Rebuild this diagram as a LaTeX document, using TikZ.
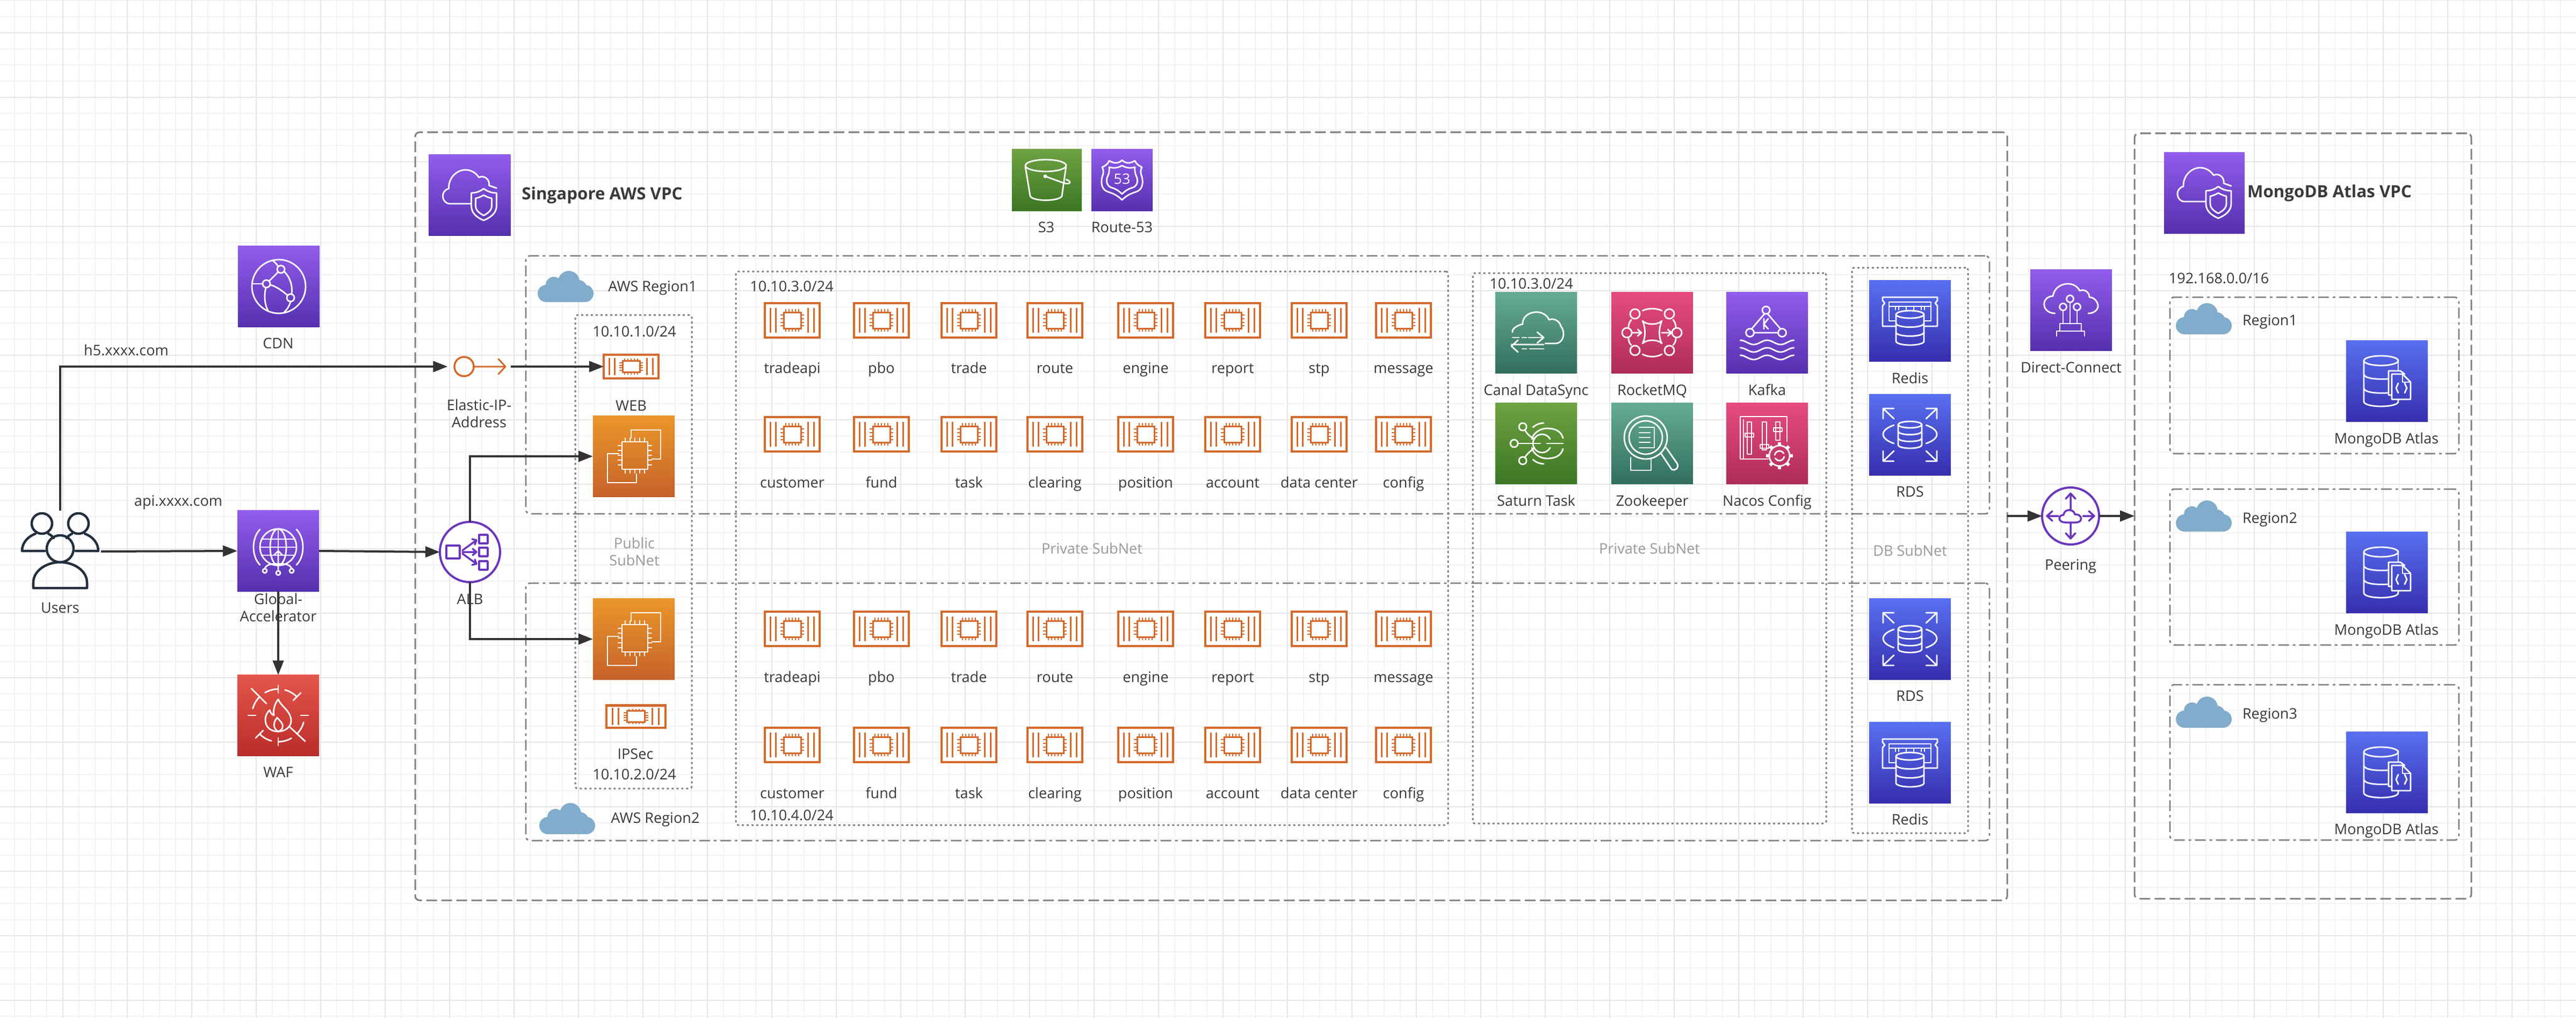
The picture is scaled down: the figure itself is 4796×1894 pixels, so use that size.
\documentclass[tikz,border=0pt]{standalone}
\usepackage{fontspec}
\setmainfont{Open Sans}
\usetikzlibrary{arrows.meta,fit,calc}
\definecolor{txt}{HTML}{3A3A3A}
\definecolor{sub}{HTML}{9A9A9A}
\definecolor{bord}{HTML}{808080}
\definecolor{orng}{HTML}{D4692A}
\definecolor{vio}{HTML}{6A35BE}
\definecolor{cld}{HTML}{82ACCB}
\definecolor{usr}{HTML}{232F3E}
\definecolor{arrc}{HTML}{333333}
\definecolor{gridmin}{HTML}{F3F3F5}
\definecolor{gridmaj}{HTML}{E6E6E8}
\definecolor{puA}{HTML}{5530AE}\definecolor{puB}{HTML}{925CEC}
\definecolor{orA}{HTML}{C6622A}\definecolor{orB}{HTML}{EA962A}
\definecolor{reA}{HTML}{BA2C2A}\definecolor{reB}{HTML}{E4564A}
\definecolor{blA}{HTML}{362EAE}\definecolor{blB}{HTML}{5870F0}
\definecolor{grA}{HTML}{3C7624}\definecolor{grB}{HTML}{6EA242}
\definecolor{teA}{HTML}{326E5E}\definecolor{teB}{HTML}{66AC94}
\definecolor{piA}{HTML}{AE2C5A}\definecolor{piB}{HTML}{E64C7E}
\newcommand\cylg[5]{% cx rx ytop ybot ry
  \draw[gl] (#1,#3) ellipse ({#2} and {#5});
  \draw[gl] ({#1-#2},#3) -- ({#1-#2},#4) arc[start angle=180,end angle=0,x radius=#2,y radius=#5] -- ({#1+#2},#3);
  \pgfmathsetmacro\cma{#3+(#4-#3)/3}
  \pgfmathsetmacro\cmb{#3+2*(#4-#3)/3}
  \draw[gl] ({#1-#2},\cma) arc[start angle=180,end angle=0,x radius=#2,y radius=#5];
  \draw[gl] ({#1-#2},\cmb) arc[start angle=180,end angle=0,x radius=#2,y radius=#5];
}
\tikzset{
  x=0.01cm,y=-0.01cm,
  gl/.style={draw=white,line width=0.028cm,line cap=round,line join=round},
  gln/.style={draw=white,line width=0.022cm,line cap=round,line join=round},
  orl/.style={draw=orng,line width=0.03cm},
  vil/.style={draw=vio,line width=0.035cm,line cap=round,line join=round},
  usl/.style={draw=usr,line width=0.045cm,line cap=round,line join=round},
  icon/.style={rectangle,minimum width=1.52cm,minimum height=1.5cm,inner sep=0pt,outer sep=0pt,draw=none,shading angle=-45},
  gpurple/.style={icon,bottom color=puA,top color=puB},
  gorange/.style={icon,bottom color=orA,top color=orB},
  gred/.style={icon,bottom color=reA,top color=reB},
  gblue/.style={icon,bottom color=blA,top color=blB},
  ggreen/.style={icon,bottom color=grA,top color=grB},
  gteal/.style={icon,bottom color=teA,top color=teB},
  gpink/.style={icon,bottom color=piA,top color=piB},
  chipbox/.style={rectangle,draw=orng,line width=0.04cm,fill=white,inner sep=0pt,outer sep=0pt,minimum width=1.02cm,minimum height=0.63cm},
  lblm/.style={font=\fontsize{7.7}{9.1}\selectfont,text=txt,inner sep=0pt,align=center},
  lbl/.style={lblm,text height=0.8em,text depth=0.2em},
  sublblm/.style={lblm,text=sub},
  sublbl/.style={lbl,text=sub},
  ttl/.style={font=\fontsize{8.9}{10}\selectfont\bfseries,text=txt,inner sep=0pt},
  vpcbox/.style={draw=bord,line width=0.03cm,rounded corners=0.08cm,dash pattern=on 0.2cm off 0.08cm,inner sep=0pt,outer sep=0pt},
  regbox/.style={draw=bord,line width=0.028cm,rounded corners=0.08cm,dash pattern=on 0.2cm off 0.07cm on 0.05cm off 0.07cm,inner sep=0pt,outer sep=0pt},
  netbox/.style={draw=bord,line width=0.03cm,rounded corners=0.04cm,dash pattern=on 0.04cm off 0.05cm,inner sep=0pt,outer sep=0pt},
  arr/.style={draw=arrc,line width=0.04cm,-{Stealth[length=0.27cm,width=0.2cm,inset=0pt]}},
  ghost/.style={rectangle,inner sep=0pt,outer sep=0pt,draw=none},
  cloudg/.pic={
    \fill[cld] (-36,13) circle (16) (36,13) circle (16) (-22,-3) circle (15) (6,-9) circle (20) (24,4) circle (16);
    \fill[cld,rounded corners=0.02cm] (-36,-2) rectangle (36,29);
  },
  chipg/.pic={
    \foreach \bx in {-41,-31,29,40} {\draw[orl] (\bx,-23) -- (\bx,23);}
    \draw[orl] (-16,-15) rectangle (16,15);
    \foreach \bx in {-12,-6,0,6,12} {\draw[draw=orng,line width=0.02cm] (\bx,-15) -- (\bx,-21) (\bx,15) -- (\bx,21);}
    \foreach \by in {-10,-3.5,3.5,10} {\draw[draw=orng,line width=0.02cm] (-16,\by) -- (-22,\by) (16,\by) -- (22,\by);}
  },
  vpcg/.pic={
    \draw[gl] (3,16) -- (-37,16) .. controls (-52,16) and (-56,-8) .. (-39,-12) .. controls (-40,-32) and (-24,-47) .. (-8,-47) .. controls (3,-47) and (12,-41) .. (17,-33) .. controls (28,-38) and (38,-28) .. (36,-18) -- (50,-13);
    \draw[gl] (26,-12) .. controls (34,-6) and (42,-4) .. (50,-4) -- (50,20) .. controls (50,34) and (38,42) .. (26,47) .. controls (14,42) and (3,34) .. (3,20) -- (3,-4) .. controls (10,-4) and (18,-6) .. (26,-12) -- cycle;
    \draw[gl] (26,0) .. controls (31,3) and (36,5) .. (41,6) -- (41,20) .. controls (41,29) and (33,34) .. (26,38) .. controls (19,34) and (11,29) .. (11,20) -- (11,6) .. controls (16,5) and (21,3) .. (26,0) -- cycle;
  },
  cdng/.pic={
    \draw[gl] (0,0) circle (50);
    \draw[gl] (-23,-5) circle (7) (4,-32) circle (7) (22,21) circle (7);
    \draw[gl] (-50,-5) -- (-30,-5);
    \draw[gl] (-18,-10) -- (-1,-27);
    \draw[gl] (-16,-3) .. controls (-4,0) and (6,8) .. (16,16);
    \draw[gl] (-24,2) .. controls (-28,18) and (-26,34) .. (-20,45);
    \draw[gl] (10,-28) .. controls (22,-16) and (26,0) .. (24,14);
    \draw[gl] (22,28) .. controls (20,36) and (16,42) .. (10,48);
    \draw[gl] (-1,-37) .. controls (-4,-42) and (-8,-46) .. (-12,-49);
  },
  gag/.pic={
    \draw[gl] (0,-7) circle (34);
    \draw[gl] (0,-7) ellipse (15 and 34);
    \draw[gl] (0,-41) -- (0,27);
    \draw[gl] (-31,-22) -- (31,-22) (-34,-7) -- (34,-7) (-31,8) -- (31,8);
    \draw[gl] (-34,26) .. controls (-50,10) and (-50,-24) .. (-34,-40);
    \draw[gl] (34,26) .. controls (50,10) and (50,-24) .. (34,-40);
    \draw[gl] (0,35) -- (0,0) (-8,8) -- (0,0) -- (8,8);
    \draw[gl] (-25,33) .. controls (-22,24) and (-10,24) .. (0,24) .. controls (10,24) and (22,24) .. (25,33);
    \draw[gl] (-25,37) circle (4) (0,41) circle (4) (25,37) circle (4);
  },
  wafg/.pic={
    \foreach \ra in {15,60,105,195,240,285} {\draw[gl] (\ra:49) arc[start angle=\ra,end angle=\ra+30,radius=49];}
    \draw[gl] (-42,0) -- (-56,0) (42,0) -- (56,0) (0,-42) -- (0,-56) (0,42) -- (0,56);
    \draw[gl] (-50,-50) -- (-22,-22) (22,22) -- (50,48) (28,-28) -- (42,-42) (-28,28) -- (-42,42);
    \draw[gl] (0,-30) .. controls (4,-18) and (24,-8) .. (24,10) .. controls (24,22) and (12,30) .. (0,30) .. controls (-14,30) and (-24,22) .. (-24,8) .. controls (-24,0) and (-20,-6) .. (-16,-10) .. controls (-14,-4) and (-12,-2) .. (-8,0) .. controls (-10,-12) and (-6,-22) .. (0,-30) -- cycle;
    \draw[gl] (0,30) .. controls (-10,24) and (-10,14) .. (-2,4) .. controls (2,10) and (10,14) .. (8,22) .. controls (8,26) and (4,28) .. (0,30);
  },
  ec2g/.pic={
    \draw[gl] (-5,-34) -- (-5,-49) -- (50,-49) -- (50,5) -- (34,5);
    \draw[gl] (-28,-5) -- (-49,-5) -- (-49,49) -- (5,49) -- (5,33);
    \draw[gl] (-22,-27) rectangle (26,24);
    \foreach \bx in {-16,-7,2,11,20} {\draw[gln] (\bx,-27) -- (\bx,-34) (\bx,24) -- (\bx,31);}
    \foreach \by in {-20,-11,-2,7,16} {\draw[gln] (-22,\by) -- (-29,\by) (26,\by) -- (33,\by);}
  },
  s3g/.pic={
    \draw[gl] (-2,-27) ellipse (38 and 11);
    \draw[gl] (-40,-25) -- (-31,30) .. controls (-26,40) and (22,40) .. (28,30) -- (36,-27);
    \draw[gl] (-3,-7) -- (30,5) .. controls (46,10) and (46,2) .. (36,-1);
    \fill[white] (-3,-7) circle (3.5);
  },
  rt53g/.pic={
    \draw[gl] (0,-37) .. controls (6,-31) and (14,-30) .. (24,-36) .. controls (26,-30) and (32,-26) .. (37,-24) .. controls (34,-18) and (34,-14) .. (37,-6) .. controls (40,6) and (38,18) .. (26,22) .. controls (16,25) and (8,29) .. (0,37) .. controls (-8,29) and (-16,25) .. (-26,22) .. controls (-38,18) and (-40,6) .. (-37,-6) .. controls (-34,-14) and (-34,-18) .. (-37,-24) .. controls (-32,-26) and (-26,-30) .. (-24,-36) .. controls (-14,-30) and (-6,-31) .. (0,-37) -- cycle;
    \draw[gl] (0,-27) .. controls (8,-22) and (16,-22) .. (24,-24) .. controls (23,-16) and (25,-10) .. (28,-4) .. controls (30,6) and (26,12) .. (20,14) .. controls (12,16) and (6,20) .. (0,26) .. controls (-6,20) and (-12,16) .. (-20,14) .. controls (-26,12) and (-30,6) .. (-28,-4) .. controls (-25,-10) and (-23,-16) .. (-24,-24) .. controls (-16,-22) and (-8,-22) .. (0,-27) -- cycle;
    \node[inner sep=0pt,text=white,font=\fontsize{7.6}{8}\selectfont] (rnum) at (0,-2) {53};
  },
  canalg/.pic={
    \draw[gl] (17,20) -- (36,20) .. controls (50,20) and (56,0) .. (46,-12) .. controls (44,-22) and (32,-28) .. (24,-24) .. controls (20,-34) and (8,-40) .. (-4,-38) .. controls (-18,-36) and (-26,-26) .. (-25,-16) .. controls (-36,-14) and (-46,-6) .. (-44,-1);
    \draw[gl] (-44,9) -- (-32,9) (-26,9) -- (-18,9) (-14,9) -- (12,9);
    \draw[gl] (2,-1) -- (14,9) -- (2,19);
    \draw[gl] (-46,22) -- (14,22) (-34,14) -- (-46,25) -- (-34,36);
    \draw[gl] (-26,30) -- (-18,30) (-12,30) -- (14,30);
  },
  mqg/.pic={
    \draw[gl] (-32,-35) circle (9) (32,-35) circle (9) (-47,0) circle (9) (46,0) circle (9) (-32,33) circle (9) (32,33) circle (9);
    \draw[gl] (-18,-22) .. controls (-10,-14) and (10,-14) .. (18,-22) .. controls (12,-10) and (12,10) .. (18,20) .. controls (10,12) and (-10,12) .. (-18,20) .. controls (-12,10) and (-12,-10) .. (-18,-22) -- cycle;
    \draw[gl] (-18,-41) .. controls (-8,-46) and (8,-46) .. (18,-41);
    \draw[gl] (-18,40) .. controls (-8,46) and (8,46) .. (18,40);
    \draw[gl] (-44,-11) .. controls (-44,-16) and (-42,-20) .. (-39,-24);
    \draw[gl] (44,-11) .. controls (44,-16) and (42,-20) .. (39,-24);
    \draw[gl] (-44,11) .. controls (-44,16) and (-42,20) .. (-39,23);
    \draw[gl] (44,11) .. controls (44,16) and (42,20) .. (39,23);
    \draw[gl] (-38,0) -- (-20,0) (-27,-6) -- (-20,0) -- (-27,6);
    \draw[gl] (18,0) -- (36,0) (29,-6) -- (36,0) -- (29,6);
  },
  kafkag/.pic={
    \draw[gl] (-2,-42) circle (7) (-32,0) circle (7.5) (28,0) circle (7.5);
    \draw[gl] (-5,-35) -- (-29,-7) (1,-35) -- (25,-7) (-24,0) -- (20,0);
    \draw[gl] (-6,-26) -- (-6,-7) (-6,-16) -- (2,-26) (-6,-16) -- (2,-7);
    \foreach \wy in {18,32,46} {\draw[gl] plot[domain=-50:50,samples=41,smooth] (\x,{\wy-4*cos(\x*7.2)});}
  },
  saturng/.pic={
    \draw[gl] (-25,-31) circle (7) (-41,0) circle (7) (-25,32) circle (7);
    \draw[gl] (-34,0) -- (8,0) (20,0) -- (50,0) ;
    \draw[gl] (-21,-25) .. controls (-16,-16) and (-10,-12) .. (-3,-8);
    \draw[gl] (-21,26) .. controls (-16,18) and (-10,14) .. (-3,8);
    \draw[gl] (26,-8) arc[start angle=-28,end angle=-332,radius=17];
    \draw[gl] (50,-10) .. controls (46,-24) and (34,-28) .. (20,-28) .. controls (6,-28) and (-6,-18) .. (-8,-8);
    \draw[gl] (50,10) .. controls (46,24) and (34,28) .. (20,28) .. controls (6,28) and (-6,18) .. (-8,8);
    \draw[gl] (-6,-30) .. controls (-2,-34) and (6,-38) .. (14,-38);
    \draw[gl] (-6,30) .. controls (-2,34) and (6,38) .. (14,38);
  },
  zookg/.pic={
    \draw[gl] (-12,-11) ellipse (40 and 40);
    \draw[gl] (-12,-11) ellipse (31 and 31);
    \draw[gl] (-24,-30) -- (4,-30) -- (4,8) -- (-24,8);
    \draw[gl] (-24,-20) -- (-4,-20) (-24,-11) -- (-4,-11) (-24,-2) -- (-4,-2);
    \draw[gl] (16,18) -- (36,48) .. controls (42,52) and (50,46) .. (47,38) -- (26,8);
    \draw[gl] (-40,26) -- (-40,50) -- (-2,50) -- (-2,30);
  },
  nacosg/.pic={
    \draw[gl] (2,29) -- (-50,29) -- (-50,-50) -- (37,-50) -- (37,-4);
    \draw[gl] (-44,29) -- (-44,-44);
    \draw[gl] (-37,-40) rectangle (-29,20) (-9,-40) rectangle (-1,12) (16,-40) rectangle (24,-6);
    \draw[gl] (-41,-19) rectangle (-25,-12) (-13,2) rectangle (3,9) (12,-29) rectangle (28,-22);
    \draw[gl] (23,23) circle (19);
    \foreach \ga in {0,45,...,315} {\draw[draw=white,line width=0.06cm] ($(23,23)+(\ga:19)$) -- ($(23,23)+(\ga:25)$);}
    \draw[gl] (23,23) ++(-30:9) arc[start angle=-30,end angle=-170,radius=9];
    \draw[gl] (23,23) ++(150:9) arc[start angle=150,end angle=10,radius=9];
  },
  redisg/.pic={
    \draw[gl] (-27,10) -- (-51,10) -- (-51,-28) -- (-47,-33) -- (-51,-38) -- (-51,-44) -- (51,-44) -- (51,-38) -- (47,-33) -- (51,-28) -- (51,10) -- (27,10);
    \draw[gl] (-27,0) -- (-39,0) -- (-39,-35) -- (39,-35) -- (39,0) -- (27,0);
    \draw[gl] (-39,-27) -- (-27,-27) -- (-27,-21);
    \draw[gl] (39,-27) -- (27,-27) -- (27,-21);
    \foreach \tx in {-21,-7,7,21} {\draw[gl] (\tx,-27) -- (\tx,-21) ({\tx-7},-27) -- ({\tx+7},-27);}
    \cylg{0}{26}{-12}{38}{7}
  },
  rdsg/.pic={
    \foreach \sx/\sy in {1/1,-1/1,1/-1,-1/-1} {
      \draw[gl] ({\sx*30},{\sy*49}) -- ({\sx*50},{\sy*49}) -- ({\sx*50},{\sy*30}) ({\sx*50},{\sy*49}) -- ({\sx*30},{\sy*30});
    }
    \draw[gl] (-30,-18) .. controls (-42,-14) and (-50,-8) .. (-50,-1) .. controls (-50,6) and (-42,12) .. (-30,16);
    \draw[gl] (30,-18) .. controls (42,-14) and (50,-8) .. (50,-1) .. controls (50,6) and (42,12) .. (30,16);
    \cylg{0}{22}{-19}{19}{6}
  },
  dcg/.pic={
    \draw[gl] (-30,6) .. controls (-44,6) and (-52,-4) .. (-50,-14) .. controls (-48,-22) and (-42,-26) .. (-34,-26) .. controls (-32,-40) and (-20,-49) .. (-6,-49) .. controls (4,-49) and (12,-44) .. (16,-36) .. controls (24,-40) and (34,-34) .. (34,-24) .. controls (44,-24) and (50,-14) .. (50,-8) .. controls (50,0) and (42,6) .. (32,6);
    \draw[gl] (-2,-21) circle (6.5) (-15,-6) circle (6.5) (11,-6) circle (6.5);
    \draw[gl] (-2,-14) -- (-2,25) (-15,1) -- (-15,25) (11,1) -- (11,25);
    \draw[gl] (-21,39) -- (-21,25) -- (19,25) -- (19,39) (-27,48) -- (-27,39) -- (25,39) -- (25,48);
  },
  mongog/.pic={
    \draw[gl] (-11,-38) ellipse (32 and 9);
    \draw[gl] (-43,-38) -- (-43,38) .. controls (-43,50) and (21,50) .. (21,38) -- (21,34);
    \draw[gl] (21,-38) -- (21,-20);
    \draw[gl] (-43,-12) .. controls (-40,-4) and (-16,-3) .. (1,-4);
    \draw[gl] (-43,14) .. controls (-40,22) and (-16,23) .. (1,22);
    \draw[gl] (9,26) -- (3,26) -- (3,-19) -- (25,-19) -- (33,-13);
    \draw[gl] (9,-13) -- (29,-13) -- (44,2) -- (44,34) -- (9,34) -- cycle;
    \draw[gln] (29,-13) -- (29,2) -- (44,2);
    \draw[gl] (21,4) -- (17,13) -- (21,22) (33,4) -- (37,13) -- (33,22);
  },
  usersg/.pic={
    \draw[usl] (0,-3) circle (25);
    \draw[usl] (-50,70) -- (-50,60) .. controls (-50,38) and (-26,22) .. (0,22) .. controls (26,22) and (50,38) .. (50,60) -- (50,70) -- cycle;
    \draw[usl] (-34,-50) circle (19) (34,-50) circle (19);
    \draw[usl] (-29,1) -- (-71,1) .. controls (-71,-14) and (-60,-26) .. (-46,-31);
    \draw[usl] (29,1) -- (71,1) .. controls (71,-14) and (60,-26) .. (46,-31);
    \draw[usl] (-22,-31) .. controls (-18,-29) and (-14,-26) .. (-12,-23);
    \draw[usl] (22,-31) .. controls (18,-29) and (14,-26) .. (12,-23);
  },
  albg/.pic={
    \draw[vil] (-44,-12) rectangle (-19,12);
    \draw[vil] (17,-32) rectangle (33,-16) (17,-8) rectangle (33,8) (17,17) rectangle (33,33);
    \draw[vil] (-14,-3) -- (12,-22) (4,-24) -- (12,-22) -- (9,-14);
    \draw[vil] (-14,0) -- (12,0) (5,-6) -- (12,0) -- (5,6);
    \draw[vil] (-14,3) -- (12,22) (4,24) -- (12,22) -- (9,14);
  },
  eipg/.pic={
    \draw[draw=orng,line width=0.035cm] (-28,0) circle (18);
    \draw[draw=orng,line width=0.03cm,line cap=round,line join=round] (-10,0) -- (49,0) (36,-14) -- (49,0) -- (36,14);
  },
  peerg/.pic={
    \draw[vil] (0,-42) -- (0,-10) (-9,-32) -- (0,-42) -- (9,-32);
    \draw[vil] (0,42) -- (0,14) (-9,32) -- (0,42) -- (9,32);
    \draw[vil] (-44,0) -- (-23,0) (-34,-9) -- (-44,0) -- (-34,9);
    \draw[vil] (44,0) -- (23,0) (34,-9) -- (44,0) -- (34,9);
    \draw[vil] (-10,12) .. controls (-24,12) and (-24,-2) .. (-13,-2) .. controls (-12,-14) and (6,-14) .. (8,-3) .. controls (22,-4) and (24,12) .. (10,12) -- cycle;
  },
}
\newcommand\lab[3]{\node[lbl] (#1) at (#2) {#3};}
\newcommand\mlab[3]{\node[lblm] (#1) at (#2) {#3};}
\newcommand\slab[3]{\node[sublbl] (#1) at (#2) {#3};}
\newcommand\chipat[5]{% name x y labely text
  \node[chipbox] (#1) at (#2,#3) {};
  \pic at (#1) {chipg};
  \node[lbl] (#1-t) at (#2,#4) {#5};
}
\begin{document}
\begin{tikzpicture}
\useasboundingbox (0,0) rectangle (4796,1894);
\fill[white] (0,0) rectangle (4796,1894);
% grid
\foreach \gx in {27,57,...,4796} {\draw[draw=gridmin,line width=0.02cm] (\gx,0) -- (\gx,1894);}
\foreach \gy in {1,31,...,1894} {\draw[draw=gridmin,line width=0.02cm] (0,\gy) -- (4796,\gy);}
\foreach \gx in {117,237,...,4796} {\draw[draw=gridmaj,line width=0.02cm] (\gx,0) -- (\gx,1894);}
\foreach \gy in {61,181,...,1894} {\draw[draw=gridmaj,line width=0.02cm] (0,\gy) -- (4796,\gy);}
% containers
\node[vpcbox,fit={(773,246)(3737,1675)}] (vpc) {};
\node[vpcbox,fit={(3974,248)(4601,1672)}] (atlas) {};
\node[regbox,fit={(979,476)(3704,956)}] (region1) {};
\node[regbox,fit={(979,1085)(3704,1564)}] (region2) {};
\node[netbox,fit={(1071,586)(1288,1467)}] (pubnet) {};
\node[netbox,fit={(1370,505)(2696,1535)}] (privnet) {};
\node[netbox,fit={(2742,508)(3400,1532)}] (midnet) {};
\node[netbox,fit={(3448,498)(3664,1550)}] (dbnet) {};
\node[regbox,fit={(4040,553)(4578,844)}] (atlasr1) {};
\node[regbox,fit={(4040,910)(4578,1200)}] (atlasr2) {};
\node[regbox,fit={(4040,1274)(4578,1563)}] (atlasr3) {};
% clouds
\pic at (1053,533) {cloudg};
\pic at (1056,1523) {cloudg};
\pic at (4103,593) {cloudg};
\pic at (4103,960) {cloudg};
\pic at (4103,1325) {cloudg};
% users + left column
\node[ghost,minimum width=1.44cm,minimum height=1.48cm] (users) at (112,1024) {};
\pic at (users) {usersg};
\lab{usersT}{112,1130}{Users}
\node[gpurple] (cdn) at (519,533) {}; \pic at (cdn) {cdng};
\lab{cdnT}{518,638}{CDN}
\node[gpurple] (ga) at (518,1025) {}; \pic at (ga) {gag};
\mlab{gaT}{518,1130}{Global-\\Accelerator}
\node[gred] (waf) at (518,1331) {}; \pic at (waf) {wafg};
\lab{wafT}{518,1436}{WAF}
\lab{h5T}{235,651}{h5.xxxx.com}
\lab{apiT}{332,931}{api.xxxx.com}
% VPC title
\node[gpurple] (vpcicon) at (874.5,363) {}; \pic at (vpcicon) {vpcg};
\node[ttl] (vpcT) at (1121,363) {Singapore AWS VPC};
\node[gpurple,minimum width=1.5cm,minimum height=1.5cm] (atlasicon) at (4104,359) {}; \pic at (atlasicon) {vpcg};
\node[ttl] (atlasT) at (4337,359) {MongoDB Atlas VPC};
% S3, Route53
\node[ggreen,minimum width=1.3cm,minimum height=1.14cm] (s3) at (1949,335) {}; \pic at (s3) {s3g};
\node[gpurple,minimum width=1.14cm,minimum height=1.14cm] (r53) at (2089,335) {}; \pic at (r53) {rt53g};
\lab{s3T}{1948,422}{S3}
\lab{r53T}{2089,422}{Route-53}
% EIP, ALB
\node[ghost,minimum width=1.17cm,minimum height=0.4cm] (eip) at (892,682) {};
\pic at (eip) {eipg};
\mlab{eipT}{892,769}{Elastic-IP-\\Address}
\node[circle,draw=vio,line width=0.04cm,minimum size=1.12cm,inner sep=0pt,outer sep=0pt,fill=white] (alb) at (875,1027) {};
\pic at (alb) {albg};
\lab{albT}{875,1114}{ALB}
\lab{regT1}{1215,532}{AWS Region1}
\lab{regT2}{1220,1521}{AWS Region2}
% public subnet
\lab{pubA}{1181,616}{10.10.1.0/24}
\node[chipbox,minimum height=0.43cm] (web) at (1175,682) {};
\pic[yscale=0.7] at (web) {chipg};
\lab{webT}{1175,754}{WEB}
\node[gorange] (ec2a) at (1180,849) {}; \pic at (ec2a) {ec2g};
\node[sublblm] (pubT) at (1181,1026) {Public\\SubNet};
\node[gorange] (ec2b) at (1180,1189) {}; \pic at (ec2b) {ec2g};
\node[chipbox,minimum width=1.09cm,minimum height=0.41cm] (ipsec) at (1184,1333) {};
\pic[yscale=0.68,xscale=1.05] at (ipsec) {chipg};
\lab{ipsecT}{1183,1402}{IPSec}
\lab{pubB}{1181,1440}{10.10.2.0/24}
% private subnet chips
\lab{privA}{1474,532}{10.10.3.0/24}
\lab{privB}{1474,1516}{10.10.4.0/24}
\slab{privT}{2033,1020}{Private SubNet}
\foreach \cx/\ca/\cb [count=\ci] in {1475/tradeapi/customer,1641/pbo/fund,1804/trade/task,1964/route/clearing,2133/engine/position,2295/report/account,2456/stp/data center,2613/message/config}{
  \chipat{ca\ci}{\cx}{596}{684}{\ca}
  \chipat{cb\ci}{\cx}{808}{897}{\cb}
  \chipat{cc\ci}{\cx}{1170}{1259}{\ca}
  \chipat{cd\ci}{\cx}{1386}{1475}{\cb}
}
% middleware
\lab{midA}{2851,527}{10.10.3.0/24}
\node[gteal] (canal) at (2860,619) {}; \pic at (canal) {canalg};
\node[gpink] (rocket) at (3076,619) {}; \pic at (rocket) {mqg};
\node[gpurple] (kafka) at (3290,619) {}; \pic at (kafka) {kafkag};
\node[ggreen] (saturn) at (2860,825) {}; \pic at (saturn) {saturng};
\node[gteal] (zook) at (3076,825) {}; \pic at (zook) {zookg};
\node[gpink] (nacos) at (3290,825) {}; \pic at (nacos) {nacosg};
\lab{canalT}{2860,725}{Canal DataSync}
\lab{rocketT}{3076,725}{RocketMQ}
\lab{kafkaT}{3290,725}{Kafka}
\lab{saturnT}{2860,931}{Saturn Task}
\lab{zookT}{3076,931}{Zookeeper}
\lab{nacosT}{3290,931}{Nacos Config}
\slab{midT}{3071,1020}{Private SubNet}
% DB
\node[gblue] (redisa) at (3556,597) {}; \pic at (redisa) {redisg};
\lab{redisaT}{3556,703}{Redis}
\node[gblue] (rdsa) at (3556,809) {}; \pic at (rdsa) {rdsg};
\lab{rdsaT}{3556,914}{RDS}
\slab{dbT}{3556,1024}{DB SubNet}
\node[gblue] (rdsb) at (3556,1189) {}; \pic at (rdsb) {rdsg};
\lab{rdsbT}{3556,1294}{RDS}
\node[gblue] (redisb) at (3556,1419) {}; \pic at (redisb) {redisg};
\lab{redisbT}{3556,1524}{Redis}
% direct connect, peering
\node[gpurple] (dc) at (3856,577) {}; \pic at (dc) {dcg};
\lab{dcT}{3856,683}{Direct-Connect}
\node[circle,draw=vio,line width=0.04cm,minimum size=1.06cm,inner sep=0pt,outer sep=0pt] (peer) at (3855,960) {};
\pic at (peer) {peerg};
\lab{peerT}{3855,1050}{Peering}
% atlas regions
\lab{cidr}{4131,517}{192.168.0.0/16}
\lab{r1T}{4226,595}{Region1}
\lab{r2T}{4226,963}{Region2}
\lab{r3T}{4226,1327}{Region3}
\node[gblue] (m1) at (4444,709) {}; \pic at (m1) {mongog};
\node[gblue] (m2) at (4444,1065) {}; \pic at (m2) {mongog};
\node[gblue] (m3) at (4444,1437) {}; \pic at (m3) {mongog};
\lab{m1T}{4443,815}{MongoDB Atlas}
\lab{m2T}{4443,1171}{MongoDB Atlas}
\lab{m3T}{4443,1542}{MongoDB Atlas}
% connectors
\draw[arr] (users.north) |- (eip.west);
\draw[arr] (eip.east) -- (web.west);
\draw[arr] ($(users.east)+(4,2)$) -- (ga.west);
\draw[arr] (ga.east) -- (alb.west);
\draw[arr] (ga.south) -- (waf.north);
\draw[arr] (alb.north) |- (ec2a.west);
\draw[arr] (alb.south) |- (ec2b.west);
\draw[arr] (vpc.east |- peer.center) -- (peer.west);
\draw[arr] (peer.east) -- (atlas.west |- peer.center);
\end{tikzpicture}
\end{document}
